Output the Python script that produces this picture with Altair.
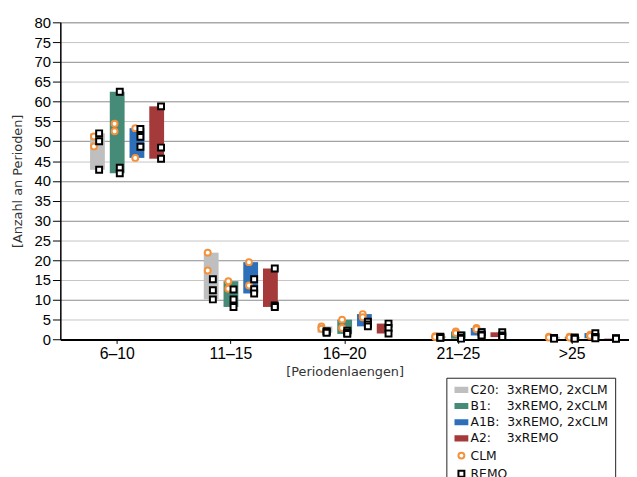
import json
import altair as alt
import pandas as pd

categories = ["6–10", "11–15", "16–20", "21–25", ">25"]
scenarios = ["C20", "B1", "A1B", "A2"]
models = ["CLM", "REMO"]

# number of periods per category (same order as categories)
c20_clm = [[51.2, 48.7], [21.9, 17.4], [3.3, 2.7], [0.8, 0.6], [0.7, 0.5]]
c20_remo = [[52.0, 50.0, 42.8], [15.2, 12.4, 10.1], [2.1, 1.9, 1.7], [0.7, 0.5, 0.4], [0.4, 0.3, 0.2]]
b1_clm = [[54.4, 52.5], [14.7, 12.8], [5.0, 2.9], [2.0, 1.6], [0.7, 0.5]]
b1_remo = [[62.5, 43.3, 41.9], [12.6, 10.1, 8.2], [2.2, 1.7, 1.4], [1.0, 0.4, 0.2], [0.5, 0.3, 0.2]]
a1b_clm = [[53.3, 45.8], [19.5, 13.6], [6.4, 5.6], [2.9, 2.6], [1.2, 0.9]]
a1b_remo = [[53.1, 51.1, 48.6], [15.2, 12.7, 11.6], [4.5, 3.8, 3.3], [1.8, 1.2, 1.0], [1.6, 0.6, 0.3]]
a2_clm = [[], [], [], [], []]
a2_remo = [[58.8, 48.4, 45.6], [17.9, 8.6, 8.2], [4.0, 2.9, 1.5], [1.8, 1.0, 0.6], [0.3, 0.2, 0.2]]

series_values = {
    ("C20", "CLM"): c20_clm, ("C20", "REMO"): c20_remo,
    ("B1", "CLM"): b1_clm, ("B1", "REMO"): b1_remo,
    ("A1B", "CLM"): a1b_clm, ("A1B", "REMO"): a1b_remo,
    ("A2", "CLM"): a2_clm, ("A2", "REMO"): a2_remo,
}

rows = []
for m in models:
    for s in scenarios:
        for ci, cat in enumerate(categories):
            for v in series_values[(s, m)][ci]:
                rows.append({"cat": cat, "scenario": s, "model": m, "value": v})
df = pd.DataFrame(rows)

legend_domain = ["C20", "B1", "A1B", "A2", "CLM", "REMO"]
NB = "\u00a0"
legend_labels = {
    "C20": "C20:" + NB * 2 + "3xREMO," + NB + "2xCLM",
    "B1": "B1:" + NB * 4 + "3xREMO," + NB + "2xCLM",
    "A1B": "A1B:" + NB * 2 + "3xREMO," + NB + "2xCLM",
    "A2": "A2:" + NB * 4 + "3xREMO",
    "CLM": "CLM",
    "REMO": "REMO",
}
fill_range = ["#bfbfbf", "#468a78", "#2e6fba", "#a43a3a", "#ffffff", "#ffffff"]
stroke_range = ["#bfbfbf", "#468a78", "#2e6fba", "#a43a3a", "#f5913a", "#000000"]
bar_sym = "M-2,-0.7H2V0.7H-2Z"
shape_range = [bar_sym, bar_sym, bar_sym, bar_sym, "circle", "square"]

legend = alt.Legend(
    orient="none", legendX=391, legendY=360, title=None,
    labelExpr=json.dumps(legend_labels, ensure_ascii=False) + "[datum.label]",
    labelFont="DejaVu Sans", labelFontSize=12.5, labelColor="#111",
    strokeColor="#222", fillColor="white", padding=6,
    symbolSize=36, symbolStrokeWidth=2, rowPadding=3.4,
    symbolOffset=3, labelOffset=3,
)

x_enc = alt.X(
    "cat:N", sort=categories,
    scale=alt.Scale(paddingInner=0, paddingOuter=0),
    axis=alt.Axis(title="[Periodenlaengen]", labelAngle=0, labelFont="Liberation Sans",
                  labelFontSize=16, labelColor="#000", tickColor="#000", tickSize=4,
                  labelPadding=2, domainColor="#000", domainWidth=2,
                  titleFont="DejaVu Sans", titleFontSize=13, titleFontWeight="normal",
                  titleColor="#333", titlePadding=5, grid=False),
)
y_axis = alt.Axis(
    title="[Anzahl an Perioden]", values=list(range(0, 85, 5)),
    labelFont="Liberation Sans", labelFontSize=15, labelColor="#000",
    tickColor="#000", tickSize=8, labelPadding=2, domainColor="#000", domainWidth=1.5,
    titleFont="DejaVu Sans", titleFontSize=13, titleFontWeight="normal",
    titleColor="#333", titlePadding=10,
    grid=True,
    gridColor={"condition": {"test": "datum.value % 10 === 0", "value": "#8a8a8a"}, "value": "#c4c4c4"},
    gridWidth=1,
)
y_scale = alt.Scale(domain=[0, 80], nice=False)

fill_enc = alt.Fill("series:N", scale=alt.Scale(domain=legend_domain, range=fill_range), legend=legend)

bars = alt.Chart(df).transform_aggregate(
    lo="min(value)", hi="max(value)", groupby=["cat", "scenario"]
).transform_calculate(series="datum.scenario").mark_bar(opacity=1).encode(
    x=x_enc,
    xOffset=alt.XOffset("scenario:N", scale=alt.Scale(domain=["_"] + scenarios,
                                                     paddingInner=0.25, paddingOuter=0.505)),
    y=alt.Y("lo:Q", scale=y_scale, axis=y_axis),
    y2="hi:Q",
    fill=fill_enc,
)

slot_domain = ["L"]
for g in ["_"] + scenarios:
    slot_domain += [g + "|a", g + "|CLM", g + "|REMO", g + "|b"]
slot_domain += ["R"]

points = alt.Chart(df).transform_calculate(
    series="datum.model", slot="datum.scenario + '|' + datum.model"
).mark_point(filled=True, strokeWidth=2, size=36, opacity=1).encode(
    x=x_enc,
    xOffset=alt.XOffset("slot:N", scale=alt.Scale(domain=slot_domain, paddingInner=0, paddingOuter=0.52)),
    y=alt.Y("value:Q", scale=y_scale, axis=y_axis),
    fill=fill_enc,
    stroke=alt.Stroke("series:N", scale=alt.Scale(domain=legend_domain, range=stroke_range), legend=legend),
    shape=alt.Shape("series:N", scale=alt.Scale(domain=legend_domain, range=shape_range), legend=legend),
)

chart = alt.layer(bars, points).resolve_scale(xOffset="independent").properties(
    width=576, height=321.2,
    autosize=alt.AutoSizeParams(type="none"),
    padding={"left": 53, "top": 11.5, "right": 0, "bottom": 137},
).configure_view(stroke="#222", strokeWidth=1).configure(background="white")

chart.save("out.html", embed_options={"renderer": "svg", "actions": False})
